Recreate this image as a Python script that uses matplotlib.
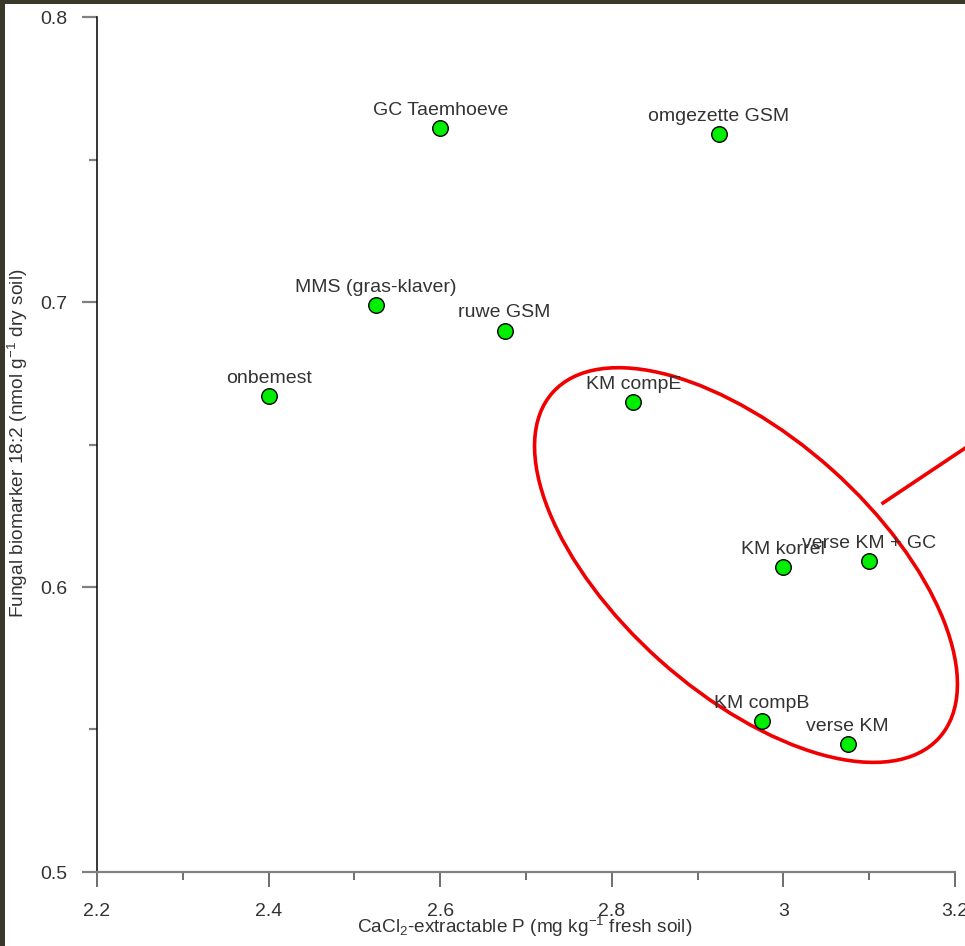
import matplotlib
matplotlib.use("Agg")
import matplotlib.pyplot as plt
from matplotlib.patches import Ellipse, Rectangle
from matplotlib.ticker import MultipleLocator

# data
treatments = ["onbemest", "MMS (gras-klaver)", "GC Taemhoeve", "ruwe GSM",
              "omgezette GSM", "KM compE", "KM korrel", "verse KM + GC",
              "KM compB", "verse KM"]
cacl2_p = [2.40, 2.525, 2.60, 2.675, 2.925, 2.825, 3.00, 3.10, 2.975, 3.075]
fungal_18_2 = [0.667, 0.699, 0.761, 0.690, 0.759, 0.665, 0.607, 0.609, 0.553, 0.545]

x_ticks = [2.2, 2.4, 2.6, 2.8, 3.0, 3.2]
x_tick_labels = ["2.2", "2.4", "2.6", "2.8", "3", "3.2"]
y_ticks = [0.5, 0.6, 0.7, 0.8]
y_tick_labels = ["0.5", "0.6", "0.7", "0.8"]

plt.rcParams["font.family"] = ["Liberation Sans", "DejaVu Sans"]
plt.rcParams["mathtext.fontset"] = "custom"
plt.rcParams["mathtext.rm"] = "Liberation Sans"
plt.rcParams["mathtext.it"] = "Liberation Sans:italic"
TXT = "#333333"

fig = plt.figure(figsize=(9.65, 9.46), dpi=100, facecolor="white")
ax = fig.add_axes([97/965, 1 - 872/946, 858/965, 855/946])

ax.scatter(cacl2_p, fungal_18_2, s=125, color="#00ee00", edgecolor="black",
           linewidth=1.0, zorder=3, clip_on=False)

for name, xv, yv in zip(treatments, cacl2_p, fungal_18_2):
    ax.annotate(name, (xv, yv), xytext=(0, 9.4), textcoords="offset points",
                ha="center", va="baseline", fontsize=14, color=TXT, zorder=4)

ax.set_xlim(2.2, 3.2)
ax.set_ylim(0.5, 0.8)
ax.set_xticks(x_ticks)
ax.set_xticklabels(x_tick_labels)
ax.set_yticks(y_ticks)
ax.set_yticklabels(y_tick_labels)
ax.xaxis.set_minor_locator(MultipleLocator(0.1))
ax.yaxis.set_minor_locator(MultipleLocator(0.05))

for s in ["top", "right"]:
    ax.spines[s].set_visible(False)
ax.spines["left"].set_color("black")
ax.spines["left"].set_linewidth(1.1)
ax.spines["bottom"].set_color("#808080")
ax.spines["bottom"].set_linewidth(1.6)

ax.tick_params(axis="x", which="major", direction="out", length=10.8, width=1.2,
               color="#555555", labelsize=14, labelcolor=TXT, pad=11.2)
ax.tick_params(axis="x", which="minor", direction="out", length=5.8, width=1.2,
               color="#555555")
ax.tick_params(axis="y", which="major", direction="out", length=10.8, width=1.6,
               color="#808080", labelsize=14, labelcolor=TXT, pad=10.5)
ax.tick_params(axis="y", which="minor", direction="out", length=5.8, width=1.6,
               color="#808080")

# red ellipse around the KM treatments and the pointer line
ell = Ellipse((0.7564, 0.359), width=0.605, height=0.300, angle=-41.9,
              transform=ax.transAxes, fill=False, edgecolor="#f00000",
              linewidth=2.6, clip_on=False, zorder=2)
ax.add_patch(ell)
ax.plot([0.9161, 1.05], [0.4316, 0.5214], transform=ax.transAxes,
        color="#f00000", linewidth=2.6, clip_on=False, zorder=2)

fig.text(525/965, 1 - 933/946,
         "CaCl$_2$-extractable P (mg kg$^{\\mathregular{-1}}$ fresh soil)",
         ha="center", va="baseline", fontsize=13.7, color=TXT)
fig.text(17.5/965, 1 - 443/946,
         "Fungal biomarker 18:2 (nmol g$^{\\mathregular{-1}}$ dry soil)",
         ha="center", va="center", rotation=90, fontsize=13.8, color=TXT)

# dark frame on top and left edge of the screenshot
fig.patches.append(Rectangle((0, 1 - 4/946), 1, 4/946, transform=fig.transFigure,
                             facecolor="#3a3828", edgecolor="none", zorder=10))
fig.patches.append(Rectangle((0, 0), 5/965, 1, transform=fig.transFigure,
                             facecolor="#3a3828", edgecolor="none", zorder=10))

fig.savefig("out.png", dpi=100, facecolor="white")
